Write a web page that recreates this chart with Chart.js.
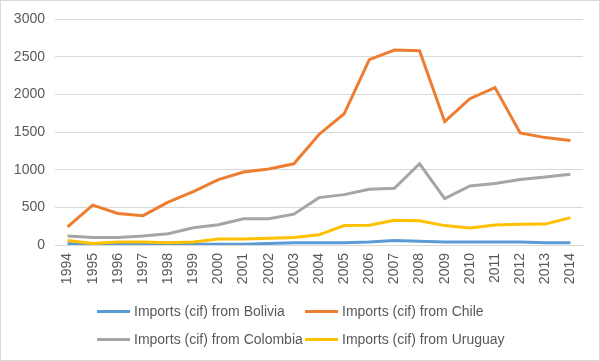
<!DOCTYPE html>
<html><head><meta charset="utf-8">
<script src="https://cdn.jsdelivr.net/npm/chart.js@4"></script>
<style>
html,body{margin:0;padding:0;background:#fff;}
#wrap{position:relative;width:598px;height:359px;border:1px solid #d9d9d9;}
canvas{position:absolute;left:0;top:0;}
.leg{position:absolute;font-family:"Liberation Sans",Arial,sans-serif;font-size:14px;color:#595959;white-space:nowrap;line-height:16px;}
.leg i{display:inline-block;width:33px;height:3px;vertical-align:middle;margin-right:4px;position:relative;top:-1px;}
</style></head>
<body>
<div id="wrap"><canvas id="c" width="598" height="359"></canvas>
<div id="legend"></div></div>
<script>
const years = ["1994","1995","1996","1997","1998","1999","2000","2001","2002","2003","2004","2005","2006","2007","2008","2009","2010","2011","2012","2013","2014"];
const bolivia  = [20,5,10,10,5,10,10,10,20,30,30,30,40,60,50,40,40,40,40,30,30];
const chile    = [240,530,420,390,570,710,870,970,1010,1080,1470,1745,2465,2592,2583,1640,1945,2093,1490,1428,1390];
const colombia = [120,100,100,120,150,230,270,350,350,410,630,670,742,755,1080,618,785,818,870,905,940];
const uruguay  = [60,20,40,40,30,40,80,80,90,100,135,258,262,328,322,258,225,266,276,278,364];
const seriesNames = ["Imports (cif) from Bolivia","Imports (cif) from Chile","Imports (cif) from Colombia","Imports (cif) from Uruguay"];
const colors = ["#5B9BD5","#ED7D31","#A5A5A5","#FFC000"];
const yTicks = [0,500,1000,1500,2000,2500,3000];

const FONT = "'Liberation Sans', Arial, sans-serif";
const data = [bolivia, chile, colombia, uruguay];
new Chart(document.getElementById('c'), {
  type: 'line',
  data: {
    labels: years,
    datasets: data.map((d,i)=>({
      label: seriesNames[i], data: d, borderColor: colors[i], backgroundColor: colors[i],
      borderWidth: 3, pointRadius: 0, tension: 0, order: 4-i, fill:false
    }))
  },
  options: {
    responsive: false, animation: false,
    layout: {padding: {left: 0, right: 16, top: 10, bottom: 67}},
    plugins: {legend: {display: false}, tooltip: {enabled: false}},
    scales: {
      x: {
        offset: true,
        grid: {display: false, drawTicks: false},
        border: {color: '#d9d9d9', width: 1},
        ticks: {color: '#595959', font: {family: FONT, size: 14}, minRotation: 90, maxRotation: 90, padding: 8, autoSkip: false},
        afterFit: s => { s.height = 48; }
      },
      y: {
        min: 0, max: 3000,
        afterBuildTicks: s => { s.ticks = yTicks.map(v=>({value:v})); },
        grid: {color: '#d9d9d9', lineWidth: 1, drawTicks: false},
        border: {display: false},
        ticks: {color: '#595959', font: {family: FONT, size: 14}, padding: 10, callback: v => String(v)},
        afterFit: s => { s.width = 54; }
      }
    }
  }
});
const leg = document.getElementById('legend');
const pos = [[96,302],[304,302],[96,330],[304,330]];
seriesNames.forEach((n,i)=>{
  const d = document.createElement('div'); d.className='leg';
  d.style.left = pos[i][0]+'px'; d.style.top = pos[i][1]+'px';
  d.innerHTML = '<i style="background:'+colors[i]+'"></i>'+n;
  leg.appendChild(d);
});
</script>
</body></html>
